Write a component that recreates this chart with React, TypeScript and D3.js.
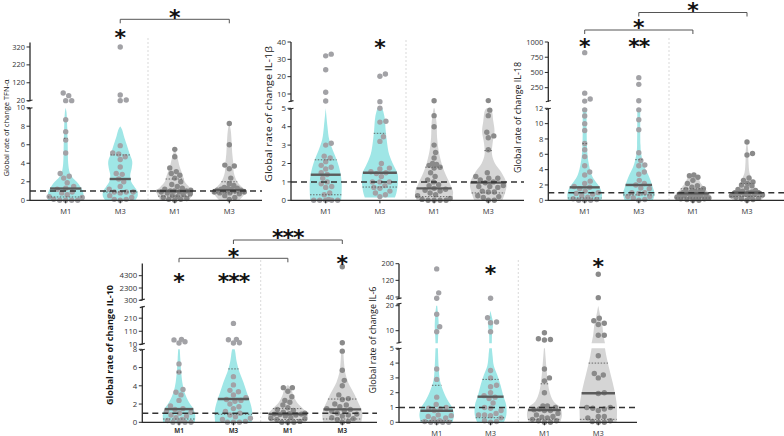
import React from "react";
import * as d3 from "d3";

// ---------------- categories ----------------
const CATEGORIES = ["M1", "M3", "M1", "M3"];
const GROUP_KIND = ["cyan", "cyan", "gray", "gray"];

// ---------------- TNF-α ----------------
const tnfM1a = [63, 48, 20, 20, 8.7, 7.4, 6.5, 5.1, 2.9, 2.6, 2.4, 1.9, 1.5, 1.3, 1.2, 0.9, 0.8, 0.6, 0.4, 0.3, 0.1, 0, 0, 0, 0];
const tnfM3a = [320, 52, 24, 20, 5.9, 5.1, 5.0, 4.7, 4.4, 3.6, 2.9, 2.8, 2.3, 2.0, 1.5, 1.2, 0.9, 0.9, 0.9, 0.8, 0.5, 0.3, 0.1, 0.1, 0];
const tnfM1b = [5.5, 4.7, 3.5, 3.1, 2.9, 2.7, 2.4, 2.0, 1.7, 1.5, 1.3, 1.2, 1.1, 1.0, 1.0, 1.0, 0.9, 0.9, 0.8, 0.7, 0.6, 0.5, 0.4, 0.3, 0.2, 0.1, 0.1, 0];
const tnfM3b = [8.3, 6.0, 3.8, 3.7, 3.4, 2.4, 1.8, 1.6, 1.4, 1.3, 1.3, 1.2, 1.2, 1.1, 1.1, 1.0, 1.0, 0.9, 0.9, 0.8, 0.8, 0.7, 0.5, 0.3, 0.1];
const tnfDensM1a = [[0, 17.7], [0.5, 18], [1, 17], [1.5, 14.5], [2, 11], [2.5, 6.5], [3, 4], [4, 2.5], [6, 2], [8, 1.5], [9.5, 0.8], [10, 0]];
const tnfDensM3a = [[0, 15], [0.5, 17.5], [1, 17], [1.5, 14], [2, 11], [2.7, 10], [3.5, 11.5], [4.2, 12], [5, 9.5], [6, 6.5], [7, 3.5], [7.6, 2], [8, 0]];
const tnfDensM1b = [[0, 14], [0.5, 17], [1, 18.3], [1.5, 14], [2, 10], [2.7, 8], [3.6, 5], [4.7, 2.5], [5.6, 0]];
const tnfDensM3b = [[0, 10], [0.5, 14], [1, 17.5], [1.5, 12], [2, 8], [3, 4.5], [4, 4], [5, 3], [6, 2.5], [7.5, 1.5], [8.4, 0]];
const tnfMedian = [1.27, 2.3, 1.0, 1.1];
const tnfQ1 = [0.36, 0.9, 0.45, 0.8];
const tnfQ3 = [6.7, 4.9, 2.3, 2.0];
const tnfBreaks = [[0, 10], [17, 345]];
const tnfTicks = [[0, 2, 4, 6, 8, 10], [20, 120, 220, 320]];
const tnfStars = [{ group: 1, text: "*" }];
const tnfBrackets = [{ from: 1, to: 3, text: "*" }];

// ---------------- IL-1β ----------------
const il1M1a = [33, 32, 24, 11, 6, 3.1, 3.0, 2.4, 2.3, 2.1, 1.9, 1.8, 1.7, 1.5, 1.4, 1.2, 1.0, 0.9, 0.75, 0.7, 0.4, 0.3, 0.05, 0, 0, 0, 0, 0];
const il1M3a = [21.5, 20.2, 5.6, 5.0, 4.3, 4.25, 3.45, 3.2, 2.0, 1.75, 1.7, 1.55, 1.5, 1.45, 1.3, 1.0, 1.0, 1.0, 0.8, 0.7, 0.65, 0.5, 0.4, 0.3, 0.2];
const il1M1b = [6.1, 4.6, 4.0, 3.0, 2.6, 2.3, 2.0, 1.95, 1.9, 1.8, 1.75, 1.5, 1.3, 1.1, 1.0, 0.85, 0.8, 0.65, 0.6, 0.55, 0.5, 0.4, 0.3, 0.25, 0.1, 0.05, 0, 0, 0, 0];
const il1M3b = [6.2, 4.9, 4.6, 3.7, 3.5, 3.4, 2.75, 1.5, 1.3, 1.2, 1.2, 1.1, 1.0, 0.95, 0.8, 0.75, 0.75, 0.7, 0.5, 0.45, 0.45, 0.25, 0.2, 0.15, 0, 0];
const il1DensM1a = [[0, 15.5], [0.9, 16], [1.5, 14.7], [2.1, 11.7], [2.7, 7.2], [3.3, 3.5], [4, 1.8], [5, 0]];
const il1DensM3a = [[0.15, 15], [0.4, 16.5], [0.85, 17.8], [1.4, 17.8], [1.9, 13.7], [2.5, 9.2], [3.2, 7], [3.8, 5.8], [4.5, 4.7], [5, 2.5]];
const il1DensM1b = [[0, 17.5], [0.45, 19], [0.9, 15.8], [1.5, 10.8], [2, 7.5], [2.7, 4.5], [3.4, 3], [4.2, 2.5], [5, 0.5]];
const il1DensM3b = [[0, 14], [0.45, 17], [0.9, 18.3], [1.5, 13.3], [2, 6.7], [2.5, 3.7], [3.1, 4.3], [3.75, 6.2], [4.3, 5], [4.9, 3.3], [5, 1.5]];
const il1Median = [1.39, 1.5, 0.65, 0.96];
const il1Q1 = [0.3, 0.72, 0.2, 0.4];
const il1Q3 = [2.2, 3.64, 1.8, 2.7];
const il1Breaks = [[0, 5], [5.5, 40]];
const il1Ticks = [[0, 1, 2, 3, 4, 5], [10, 20, 30, 40]];
const il1Stars = [{ group: 1, text: "*" }];
const il1Brackets: { from: number; to: number; text: string }[] = [];

// ---------------- IL-18 ----------------
const il18M1a = [825, 160, 65, 30, 11.8, 11, 10, 9.1, 7.4, 6.6, 5.7, 4.5, 3.7, 3.3, 2.5, 2.2, 1.8, 1.7, 1.5, 1.2, 1.0, 0.9, 0.8, 0.6, 0.4, 0.2, 0.1, 0, 0, 0];
const il18M3a = [415, 305, 35, 11.8, 10.5, 9.2, 6.2, 5.2, 4.6, 4.5, 3.7, 3.4, 2.6, 2.2, 2.0, 1.6, 1.5, 1.0, 1.0, 0.9, 0.5, 0.5, 0.3, 0.1, 0];
const il18M1b = [3.3, 3.2, 3.0, 2.6, 2.2, 1.9, 1.7, 1.5, 1.4, 1.3, 1.2, 1.1, 1.0, 1.0, 0.9, 0.9, 0.8, 0.8, 0.7, 0.6, 0.6, 0.5, 0.4, 0.4, 0.3, 0.2, 0.2, 0.1, 0, 0];
const il18M3b = [7.6, 6.1, 5.9, 2.9, 2.6, 2.4, 2.2, 2.0, 1.9, 1.6, 1.4, 1.3, 1.2, 1.1, 1.0, 1.0, 1.0, 0.9, 0.8, 0.8, 0.7, 0.6, 0.5, 0.4, 0.3, 0.2, 0.1, 0];
const il18DensM1a = [[0, 16.7], [0.8, 17.3], [1.7, 15], [2.6, 10], [3.4, 6.7], [4.6, 4.3], [5.7, 3], [7, 2.3], [9, 2], [12, 2]];
const il18DensM3a = [[0, 14], [0.8, 15.8], [1.7, 14], [2.6, 11.7], [3.4, 9.2], [4.3, 5.8], [5.2, 3.7], [6.2, 2.2], [7.2, 1.7], [12, 1.5]];
const il18DensM1b = [[0, 16.7], [0.6, 18], [1.2, 14], [1.7, 11], [2.3, 7.5], [3, 5], [3.6, 0]];
const il18DensM3b = [[0, 14], [0.65, 17.5], [1.2, 13.3], [1.7, 7.5], [2.3, 6.2], [2.9, 4.5], [3.6, 2.5], [5, 1.5], [6.5, 1.2], [7.7, 0]];
const il18Median = [1.69, 2.0, 0.9, 1.0];
const il18Q1 = [0.3, 0.7, 0.3, 0.5];
const il18Q3 = [7.4, 5.3, 1.5, 2.2];
const il18Breaks = [[0, 12], [20, 1000]];
const il18Ticks = [[0, 2, 4, 6, 8, 10, 12], [250, 500, 750, 1000]];
const il18Stars = [{ group: 0, text: "*" }, { group: 1, text: "**" }];
const il18Brackets = [{ from: 0, to: 2, text: "*" }, { from: 1, to: 3, text: "*" }];

// ---------------- IL-10 ----------------
const il10M1a = [48, 44, 30, 20, 6.4, 5.5, 3.6, 3.3, 3.0, 2.4, 1.8, 1.5, 1.4, 1.2, 1.1, 1.0, 0.8, 0.7, 0.5, 0.3, 0.2, 0, 0, 0, 0];
const il10M3a = [170, 48, 45, 22, 20, 5.0, 4.1, 3.5, 3.35, 3.0, 2.7, 2.5, 2.4, 2.3, 2.0, 1.7, 1.5, 1.2, 1.0, 0.8, 0.6, 0.45, 0.3, 0.1, 0, 0, 0];
const il10M1b = [3.8, 3.8, 3.4, 2.8, 2.4, 2.2, 1.9, 1.6, 1.4, 1.3, 1.1, 1.0, 0.95, 0.9, 0.9, 0.85, 0.8, 0.7, 0.5, 0.45, 0.4, 0.3, 0.1, 0, 0, 0];
const il10M3b = [5760, 22, 7.8, 5.7, 4.6, 4.0, 3.0, 2.6, 2.5, 2.0, 1.9, 1.7, 1.5, 1.4, 1.3, 1.2, 1.0, 0.9, 0.8, 0.7, 0.5, 0.4, 0.3, 0.1, 0];
const il10DensM1a = [[0, 15.8], [0.8, 16.2], [1.5, 14.2], [2.2, 10], [3.3, 5.5], [4.4, 3.3], [5.5, 2.2], [7, 1.3], [8, 0.8]];
const il10DensM3a = [[0, 18.3], [1.2, 18.7], [2.2, 16.7], [3.3, 13.3], [4.4, 10], [5.5, 6], [6.6, 3.3], [7.8, 1.7], [8, 1.2]];
const il10DensM1b = [[0, 17.5], [0.8, 20], [1.5, 15], [2.2, 9], [3, 5.3], [3.7, 3.3], [4.1, 0]];
const il10DensM3b = [[0, 19], [0.8, 20], [1.5, 18.7], [2.2, 15.8], [3, 12.5], [3.7, 9], [4.4, 5.8], [5.5, 2.8], [6.6, 1.7], [8, 1]];
const il10Median = [1.45, 2.55, 0.91, 1.42];
const il10Q1 = [0.36, 0.88, 0.3, 0.36];
const il10Q3 = [5.5, 5.85, 1.5, 2.55];
const il10Breaks = [[0, 8], [8, 300], [300, 6300]];
const il10Ticks = [[0, 2, 4, 6, 8], [10, 110, 210], [300, 2300, 4300]];
const il10Stars = [{ group: 0, text: "*" }, { group: 1, text: "***" }, { group: 3, text: "*" }];
const il10Brackets = [{ from: 0, to: 2, text: "*" }, { from: 1, to: 3, text: "***" }];

// ---------------- IL-6 ----------------
const il6M1a = [175, 60, 34, 16.6, 11.6, 9.6, 3.6, 2.9, 1.7, 1.2, 1.0, 0.95, 0.9, 0.8, 0.5, 0.45, 0.4, 0.3, 0.25, 0.1, 0.05, 0, 0, 0, 0];
const il6M3a = [34, 15.2, 13.5, 13.2, 9.6, 3.5, 3.0, 2.5, 2.4, 2.0, 1.8, 1.7, 1.6, 1.3, 1.0, 0.95, 0.8, 0.6, 0.5, 0.5, 0.45, 0.3, 0.1, 0.05, 0];
const il6M1b = [9.2, 6.8, 6.5, 6.3, 3.6, 3.0, 2.8, 2.0, 1.1, 1.1, 1.0, 0.9, 0.85, 0.8, 0.8, 0.6, 0.5, 0.4, 0.35, 0.3, 0.2, 0.1, 0.1, 0, 0];
const il6M3b = [149, 37, 15, 14, 13, 12.5, 8.2, 8.2, 4.5, 3.3, 3.2, 3.0, 2.0, 1.95, 1.0, 1.0, 0.95, 0.9, 0.8, 0.4, 0.4, 0.3, 0.1, 0.05, 0, 0];
const il6DensM1a = [[0, 15.8], [0.5, 17.3], [1, 15.5], [1.4, 11.7], [2.1, 6.7], [2.8, 3.3], [3.7, 2], [5, 1.2], [8, 1.5], [12, 2], [16, 1.5], [20, 0.5]];
const il6DensM3a = [[0, 13.3], [0.5, 15.8], [1.2, 15.5], [1.8, 12.7], [2.5, 10], [3.2, 6.7], [3.8, 3.3], [4.5, 2], [5, 1.3], [9, 1.5], [13, 2.5], [16, 1], [18, 0]];
const il6DensM1b = [[0, 15.8], [0.5, 17.5], [1, 15.8], [1.4, 9.2], [2.1, 5], [2.8, 3.3], [3.7, 2], [5, 0.5]];
const il6DensM3b = [[0, 18.3], [1, 18.7], [1.8, 17.2], [2.7, 14.3], [3.6, 11], [4.5, 8], [5, 6.7], [8.6, 5], [11.7, 4.2], [15, 2.5], [18, 1], [20, 0]];
const il6Median = [0.78, 1.73, 0.83, 1.96];
const il6Q1 = [0.1, 0.31, 0.2, 0.2];
const il6Q3 = [2.5, 2.9, 2.6, 4.0];
const il6Breaks = [[0, 5], [5, 21], [30, 200]];
const il6Ticks = [[0, 1, 2, 3, 4, 5], [10, 20], [40, 120, 200]];
const il6Stars = [{ group: 1, text: "*" }, { group: 3, text: "*" }];
const il6Brackets: { from: number; to: number; text: string }[] = [];

// ---------------- layout (pixels) ----------------
const LAYOUT = {
  tnf: {
    axisX: 30, xEnd: 262, cats: [65.7, 229.3], sep: 148, sepTop: 38,
    segPx: [[200.3, 107.7], [101.2, 42.5]],
    label: { x: 6, y: 128, size: 7.6, len: 97, bold: false },
    tickSize: 7.5, xLabelY: 214, xLabelSize: 7.5, xLabelBold: false,
    starY: [0, 33, 0, 0], bracketY: [19.3],
  },
  il1: {
    axisX: 291, xEnd: 524, cats: [325.7, 488.3], sep: 406, sepTop: 40,
    segPx: [[200.3, 108.3], [101.8, 42]],
    label: { x: 269, y: 114, size: 9.5, len: 136, bold: false },
    tickSize: 7.8, xLabelY: 214, xLabelSize: 7.5, xLabelBold: false,
    starY: [0, 42.7, 0, 0], bracketY: [],
  },
  il18: {
    axisX: 548.3, xEnd: 784, cats: [584.7, 747], sep: 669, sepTop: 38,
    segPx: [[200.3, 108.3], [101.7, 42]],
    label: { x: 518, y: 117.5, size: 8.6, len: 111, bold: false },
    tickSize: 7.5, xLabelY: 214, xLabelSize: 7.5, xLabelBold: false,
    starY: [42, 42, 0, 0], bracketY: [30, 12.5],
  },
  il10: {
    axisX: 142.3, xEnd: 377, cats: [179, 342.3], sep: 260.7, sepTop: 260,
    segPx: [[422.3, 349.3], [344.6, 306.4], [300.3, 263.4]],
    label: { x: 110, y: 345, size: 8.6, len: 120, bold: true },
    tickSize: 7.8, xLabelY: 433, xLabelSize: 6.3, xLabelBold: true,
    starY: [277, 277, 0, 258.3], bracketY: [258.3, 240],
  },
  il6: {
    axisX: 399, xEnd: 637, cats: [436.7, 598.3], sep: 518.3, sepTop: 260,
    segPx: [[422.3, 348.3], [343.2, 303.2], [299.1, 263.7]],
    label: { x: 373, y: 340, size: 8.4, len: 107, bold: false },
    tickSize: 7.3, xLabelY: 435.5, xLabelSize: 7.5, xLabelBold: false,
    starY: [0, 268.3, 0, 261.7], bracketY: [],
  },
};

// ---------------- styles ----------------
const FILL = { cyan: "#9fe6e6", gray: "#d5d5d5" };
const POINT = { cyan: "#a2a2a6", gray: "#8a8a8a" };
const INK = "#2a2a2a";
const MEDIAN_INK = "#5b5b5b";
const R = 2.7;
const FONT = "'Open Sans', 'Noto Sans', sans-serif";

type Panel = {
  title: string;
  groups: number[][];
  dens: number[][][];
  median: number[];
  q1: number[];
  q3: number[];
  breaks: number[][];
  ticks: number[][];
  stars: { group: number; text: string }[];
  brackets: { from: number; to: number; text: string }[];
  L: any;
};

const PANELS: Panel[] = [
  { title: "Global rate of change TFN-α", groups: [tnfM1a, tnfM3a, tnfM1b, tnfM3b], dens: [tnfDensM1a, tnfDensM3a, tnfDensM1b, tnfDensM3b], median: tnfMedian, q1: tnfQ1, q3: tnfQ3, breaks: tnfBreaks, ticks: tnfTicks, stars: tnfStars, brackets: tnfBrackets, L: LAYOUT.tnf },
  { title: "Global rate of change IL-1β", groups: [il1M1a, il1M3a, il1M1b, il1M3b], dens: [il1DensM1a, il1DensM3a, il1DensM1b, il1DensM3b], median: il1Median, q1: il1Q1, q3: il1Q3, breaks: il1Breaks, ticks: il1Ticks, stars: il1Stars, brackets: il1Brackets, L: LAYOUT.il1 },
  { title: "Global rate of change IL-18", groups: [il18M1a, il18M3a, il18M1b, il18M3b], dens: [il18DensM1a, il18DensM3a, il18DensM1b, il18DensM3b], median: il18Median, q1: il18Q1, q3: il18Q3, breaks: il18Breaks, ticks: il18Ticks, stars: il18Stars, brackets: il18Brackets, L: LAYOUT.il18 },
  { title: "Global rate of change IL-10", groups: [il10M1a, il10M3a, il10M1b, il10M3b], dens: [il10DensM1a, il10DensM3a, il10DensM1b, il10DensM3b], median: il10Median, q1: il10Q1, q3: il10Q3, breaks: il10Breaks, ticks: il10Ticks, stars: il10Stars, brackets: il10Brackets, L: LAYOUT.il10 },
  { title: "Global rate of change IL-6", groups: [il6M1a, il6M3a, il6M1b, il6M3b], dens: [il6DensM1a, il6DensM3a, il6DensM1b, il6DensM3b], median: il6Median, q1: il6Q1, q3: il6Q3, breaks: il6Breaks, ticks: il6Ticks, stars: il6Stars, brackets: il6Brackets, L: LAYOUT.il6 },
];

// density (relative) -> pixel half-width
const densityPx = d3.scaleLinear().domain([0, 20]).range([0, 20]);

function densAt(p: number[][], v: number) {
  if (v < p[0][0] || v > p[p.length - 1][0]) return 0;
  for (let i = 1; i < p.length; i++) {
    if (v <= p[i][0]) {
      const [a, wa] = p[i - 1];
      const [b, wb] = p[i];
      return b === a ? wb : wa + ((wb - wa) * (v - a)) / (b - a);
    }
  }
  return p[0][1];
}

function clipProfile(p: number[][], lo: number, hi: number) {
  const out: number[][] = [];
  for (let i = 0; i < p.length; i++) {
    const [v, w] = p[i];
    if (i > 0) {
      const [pv, pw] = p[i - 1];
      for (const b of [lo, hi]) {
        if (pv < b && v > b) out.push([b, pw + ((w - pw) * (b - pv)) / (v - pv)]);
      }
    }
    if (v >= lo && v <= hi) out.push([v, w]);
  }
  return out.sort((a, b) => a[0] - b[0]);
}

function swarm(ys: number[], lims: number[], cx: number) {
  const order = d3.range(ys.length).sort((a, b) => ys[b] - ys[a]);
  const placed: { x: number; y: number }[] = [];
  const out: { x: number; y: number }[] = new Array(ys.length);
  const dmin = 2 * R + 0.3;
  for (const i of order) {
    const y = ys[i];
    const lim = lims[i];
    let best = 0;
    let bestScore = -Infinity;
    for (let k = 0; k <= 80; k++) {
      const off = (k % 2 === 1 ? 1 : -1) * Math.ceil(k / 2) * 0.5;
      if (Math.abs(off) > lim) continue;
      let minD = Infinity;
      for (const q of placed) {
        const dd = Math.hypot(q.x - (cx + off), q.y - y);
        if (dd < minD) minD = dd;
      }
      if (minD >= dmin) {
        best = off;
        bestScore = Infinity;
        break;
      }
      if (minD > bestScore) {
        bestScore = minD;
        best = off;
      }
    }
    out[i] = { x: cx + best, y };
    placed.push(out[i]);
  }
  return out;
}

function Stars({ x, y, text, size = 22 }: { x: number; y: number; text: string; size?: number }) {
  return (
    <text
      x={x}
      y={y + size * 0.56}
      textAnchor="middle"
      fontFamily="'DejaVu Sans', sans-serif"
      fontWeight="bold"
      fontSize={size}
      fill="#111"
      letterSpacing={text.length > 1 ? -1 : 0}
    >
      {text}
    </text>
  );
}

function PanelView({ p }: { p: Panel }) {
  const L = p.L;
  const scales = p.breaks.map((d, i) => d3.scaleLinear().domain(d).range(L.segPx[i]));
  const segOf = (v: number) => {
    for (let i = 0; i < p.breaks.length; i++) {
      if (v >= p.breaks[i][0] && v <= p.breaks[i][1]) return i;
    }
    let best = 0;
    let bd = Infinity;
    p.breaks.forEach(([lo, hi], i) => {
      const d = v < lo ? lo - v : v - hi;
      if (d < bd) { bd = d; best = i; }
    });
    return best;
  };
  const yOf = (v: number) => {
    const i = segOf(v);
    const [lo, hi] = p.breaks[i];
    return scales[i](Math.max(lo, Math.min(hi, v)));
  };
  const x = d3.scalePoint<number>().domain([0, 1, 2, 3]).range(L.cats);
  const y0 = scales[0];
  const nSeg = p.breaks.length;

  return (
    <g>
      {/* separator */}
      <line x1={L.sep} x2={L.sep} y1={L.sepTop} y2={y0(0)} stroke="#cfcfcf" strokeWidth={0.8} strokeDasharray="2,2" />

      {/* violins */}
      {p.dens.map((prof, gi) => {
        const cx = x(gi)!;
        return scales.map((s, si) => {
          const pts = clipProfile(prof, p.breaks[si][0], p.breaks[si][1]);
          if (pts.length < 2) return null;
          const area = d3
            .area<number[]>()
            .x0((d) => cx - densityPx(d[1]))
            .x1((d) => cx + densityPx(d[1]))
            .y((d) => s(d[0]))
            .curve(d3.curveCatmullRom.alpha(0.5));
          return <path key={`v${gi}-${si}`} d={area(pts) || ""} fill={FILL[GROUP_KIND[gi] as "cyan"]} stroke="none" />;
        });
      })}

      {/* points */}
      {p.groups.map((vals, gi) => {
        const cx = x(gi)!;
        const ys = vals.map(yOf);
        const lims = vals.map((v) => Math.max(6, densityPx(densAt(p.dens[gi], v)) - R * 0.5));
        const pos = swarm(ys, lims, cx);
        return pos.map((q, k) => (
          <circle key={`p${gi}-${k}`} cx={q.x} cy={q.y} r={R} fill={POINT[GROUP_KIND[gi] as "cyan"]} />
        ));
      })}

      {/* median & quartiles */}
      {p.median.map((m, gi) => {
        const cx = x(gi)!;
        const w = densityPx(densAt(p.dens[gi], m));
        return <line key={`m${gi}`} x1={cx - w} x2={cx + w} y1={y0(m)} y2={y0(m)} stroke={MEDIAN_INK} strokeWidth={2.4} />;
      })}
      {[p.q1, p.q3].map((qs, qi) =>
        qs.map((qv, gi) => {
          const cx = x(gi)!;
          const w = densityPx(densAt(p.dens[gi], qv));
          return <line key={`q${qi}-${gi}`} x1={cx - w} x2={cx + w} y1={y0(qv)} y2={y0(qv)} stroke={MEDIAN_INK} strokeWidth={0.9} strokeDasharray="1.5,1.5" />;
        })
      )}

      {/* reference line at 1 */}
      <line x1={L.axisX} x2={L.xEnd} y1={y0(1)} y2={y0(1)} stroke="#333" strokeWidth={1.5} strokeDasharray="6,4" />

      {/* x axis */}
      <line x1={L.axisX} x2={L.xEnd} y1={y0(0)} y2={y0(0)} stroke={INK} strokeWidth={1.3} />
      {CATEGORIES.map((c, gi) => (
        <g key={`xt${gi}`}>
          <line x1={x(gi)} x2={x(gi)} y1={y0(0)} y2={y0(0) + 3} stroke={INK} strokeWidth={1} />
          <text x={x(gi)} y={L.xLabelY} textAnchor="middle" fontSize={L.xLabelSize} fontWeight={L.xLabelBold ? "bold" : "normal"} fill="#333" fontFamily={FONT}>
            {c}
          </text>
        </g>
      ))}

      {/* y axis segments */}
      {scales.map((s, si) => {
        const [ya, yb] = L.segPx[si];
        return (
          <g key={`ys${si}`}>
            <line x1={L.axisX} x2={L.axisX} y1={ya + (si === 0 ? 0.6 : 0)} y2={yb} stroke={INK} strokeWidth={1.3} />
            {si > 0 && <line x1={L.axisX - 2.5} x2={L.axisX + 2.5} y1={ya} y2={ya - 1.2} stroke={INK} strokeWidth={1.1} />}
            {si < nSeg - 1 && <line x1={L.axisX - 2.5} x2={L.axisX + 2.5} y1={yb + 1.2} y2={yb} stroke={INK} strokeWidth={1.1} />}
            {p.ticks[si].map((t) => (
              <g key={`t${si}-${t}`}>
                <line x1={L.axisX - 3.5} x2={L.axisX} y1={s(t)} y2={s(t)} stroke={INK} strokeWidth={1} />
                <text x={L.axisX - 5} y={s(t)} dy="0.35em" textAnchor="end" fontSize={L.tickSize} fill="#333" fontFamily={FONT}>
                  {t}
                </text>
              </g>
            ))}
          </g>
        );
      })}

      {/* y label */}
      <text
        transform={`translate(${L.label.x},${L.label.y}) rotate(-90)`}
        textAnchor="middle"
        dy="0.35em"
        fontSize={L.label.size}
        fontWeight={L.label.bold ? "bold" : "normal"}
        fill="#151515"
        fontFamily={FONT}
        textLength={L.label.len}
        lengthAdjust="spacingAndGlyphs"
      >
        {p.title}
      </text>

      {/* significance stars above groups */}
      {p.stars.map((st, k) => (
        <Stars key={`s${k}`} x={x(st.group)!} y={L.starY[st.group]} text={st.text} />
      ))}

      {/* brackets */}
      {p.brackets.map((b, k) => {
        const by = L.bracketY[k];
        const xa = x(b.from)!;
        const xb = x(b.to)!;
        return (
          <g key={`b${k}`}>
            <path d={`M${xa},${by + 4}V${by}H${xb}V${by + 4}`} fill="none" stroke="#555" strokeWidth={1} />
            <Stars x={(xa + xb) / 2} y={by - 7} text={b.text} />
          </g>
        );
      })}
    </g>
  );
}

export default function App() {
  return (
    <svg width={784} height={436} style={{ position: "absolute", left: 0, top: 0, background: "#fff" }} fontFamily={FONT}>
      {PANELS.map((p, i) => (
        <PanelView key={i} p={p} />
      ))}
    </svg>
  );
}
